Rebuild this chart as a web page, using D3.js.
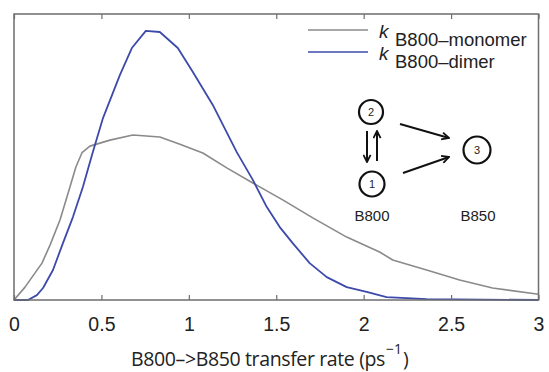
<!DOCTYPE html>
<html><head><meta charset="utf-8">
<script src="https://cdn.jsdelivr.net/npm/d3@7"></script>
<style>body{margin:0;background:#fff}</style>
</head><body>
<svg id="c" width="549" height="372"></svg>
<script>
// Data
const xTicks = [0, 0.5, 1, 1.5, 2, 2.5, 3];
const monomerX = [0, 0.063, 0.16, 0.206, 0.263, 0.32, 0.354, 0.389, 0.434, 0.549, 0.68, 0.834, 0.949, 1.08, 1.217, 1.366, 1.537, 1.709, 1.903, 2.091, 2.166, 2.36, 2.549, 2.737, 3.0];
const monomerY = [0, 0.045, 0.129, 0.192, 0.280, 0.395, 0.465, 0.515, 0.538, 0.559, 0.577, 0.570, 0.545, 0.514, 0.462, 0.409, 0.350, 0.287, 0.220, 0.168, 0.140, 0.105, 0.070, 0.042, 0.020];
const dimerX = [0, 0.08, 0.131, 0.166, 0.223, 0.28, 0.337, 0.394, 0.446, 0.509, 0.606, 0.674, 0.754, 0.834, 0.937, 1.023, 1.137, 1.274, 1.366, 1.446, 1.52, 1.594, 1.691, 1.789, 1.903, 2.017, 2.131, 2.36, 3.0];
const dimerY = [0, 0, 0.017, 0.042, 0.105, 0.199, 0.290, 0.395, 0.507, 0.636, 0.787, 0.881, 0.941, 0.937, 0.881, 0.797, 0.682, 0.517, 0.420, 0.325, 0.255, 0.199, 0.129, 0.080, 0.045, 0.028, 0.010, 0.003, 0];
const legendLabels = ["B800\u2013monomer", "B800\u2013dimer"];
const seriesColors = ["#8a8a8a", "#3d4aab"];
const xLabel = "B800\u2013>B850 transfer rate (ps";

const svg = d3.select("#c");
const L = 14, R = 538.5, T = 14, B = 300;
const x = d3.scaleLinear().domain([0, 3]).range([L, R]);
const y = d3.scaleLinear().domain([0, 1]).range([B, T]);

const line = d3.line().x(d => x(d[0])).y(d => y(d[1]));
const mono = monomerX.map((v, i) => [v, monomerY[i]]);
const dim = dimerX.map((v, i) => [v, dimerY[i]]);

svg.append("path").datum(mono).attr("d", line).attr("fill", "none")
  .attr("stroke", seriesColors[0]).attr("stroke-width", 1.6).attr("stroke-linejoin", "round");
svg.append("path").datum(dim).attr("d", line).attr("fill", "none")
  .attr("stroke", seriesColors[1]).attr("stroke-width", 1.8).attr("stroke-linejoin", "round");

// frame
svg.append("rect").attr("x", L).attr("y", T).attr("width", R - L).attr("height", B - T)
  .attr("fill", "none").attr("stroke", "#6e6e6e").attr("stroke-width", 1.5);

// bottom axis
const axB = svg.append("g").attr("transform", `translate(0,${B})`)
  .call(d3.axisBottom(x).tickValues(xTicks).tickSize(-5).tickPadding(17).tickFormat(d3.format("")));
axB.select(".domain").remove();
axB.selectAll(".tick line").attr("stroke", "#6e6e6e").attr("stroke-width", 1.2);
axB.selectAll(".tick text").attr("font-family", "Liberation Sans, Arial, sans-serif")
  .attr("font-size", 19.5).attr("fill", "#222");
// top ticks
const axT = svg.append("g").attr("transform", `translate(0,${T})`)
  .call(d3.axisTop(x).tickValues(xTicks).tickSize(-5).tickFormat(""));
axT.select(".domain").remove();
axT.selectAll(".tick line").attr("stroke", "#6e6e6e").attr("stroke-width", 1.2);

// x label
const x0 = 131, targetW = 254, fs = 19.5;
const xl = svg.append("text").attr("x", x0).attr("y", 366)
  .attr("font-family", "Open Sans, sans-serif").attr("font-size", fs).attr("fill", "#222").text(xLabel);
let w = xl.node().getComputedTextLength();
const ls = (targetW - w) / xLabel.length;
xl.attr("letter-spacing", ls);
w = targetW;
const sup = svg.append("text").attr("x", x0 + w + 1).attr("y", 354)
  .attr("font-family", "Open Sans, sans-serif").attr("font-size", 14).attr("fill", "#222").text("\u22121");
const sw = sup.node().getComputedTextLength();
svg.append("text").attr("x", x0 + w + sw + 2).attr("y", 366)
  .attr("font-family", "Open Sans, sans-serif").attr("font-size", fs).attr("fill", "#222").text(")");

// legend
legendLabels.forEach((lab, i) => {
  const yy = 30 + i * 22;
  svg.append("line").attr("x1", 308).attr("x2", 368).attr("y1", yy).attr("y2", yy)
    .attr("stroke", seriesColors[i]).attr("stroke-width", 1.6);
  svg.append("text").attr("x", 379).attr("y", yy + 7.5)
    .attr("font-family", "Liberation Sans, Arial, sans-serif").attr("fill", "#222")
    .attr("font-size", 19).attr("font-style", "italic").text("k");
  svg.append("text").attr("x", 395).attr("y", yy + 15.5)
    .attr("font-family", "Liberation Sans, Arial, sans-serif").attr("fill", "#222")
    .attr("font-size", 18.5).text(lab);
});

// diagram
const g = svg.append("g").attr("stroke", "#111").attr("fill", "none");
svg.append("defs").append("marker").attr("id", "ah").attr("viewBox", "0 0 10 10")
  .attr("refX", 9).attr("refY", 5).attr("markerWidth", 4.5).attr("markerHeight", 4.5)
  .attr("orient", "auto").append("path").attr("d", "M1,1 L9,5 L1,9")
  .attr("fill", "none").attr("stroke", "#111").attr("stroke-width", 2);
const nodes = [{n: "1", cx: 372, cy: 184, r: 12.5}, {n: "2", cx: 371, cy: 112, r: 12}, {n: "3", cx: 477, cy: 150, r: 13.5}];
nodes.forEach(d => {
  g.append("circle").attr("cx", d.cx).attr("cy", d.cy).attr("r", d.r).attr("stroke-width", 2.2);
  svg.append("text").attr("x", d.cx).attr("y", d.cy + 4).attr("text-anchor", "middle")
    .attr("font-family", "Liberation Sans, Arial, sans-serif").attr("font-size", 11).attr("fill", "#222").text(d.n);
});
const arrows = [[400, 124, 449, 138], [403, 173, 449, 157], [367, 131, 367, 162], [377, 161, 377, 131]];
arrows.forEach(a => g.append("line").attr("x1", a[0]).attr("y1", a[1]).attr("x2", a[2]).attr("y2", a[3])
  .attr("stroke-width", 2).attr("marker-end", "url(#ah)"));
[["B800", 372], ["B850", 478]].forEach(d => svg.append("text").attr("x", d[1]).attr("y", 221)
  .attr("text-anchor", "middle").attr("font-family", "Liberation Sans, Arial, sans-serif")
  .attr("font-size", 15).attr("fill", "#222").text(d[0]));
</script>
</body></html>
